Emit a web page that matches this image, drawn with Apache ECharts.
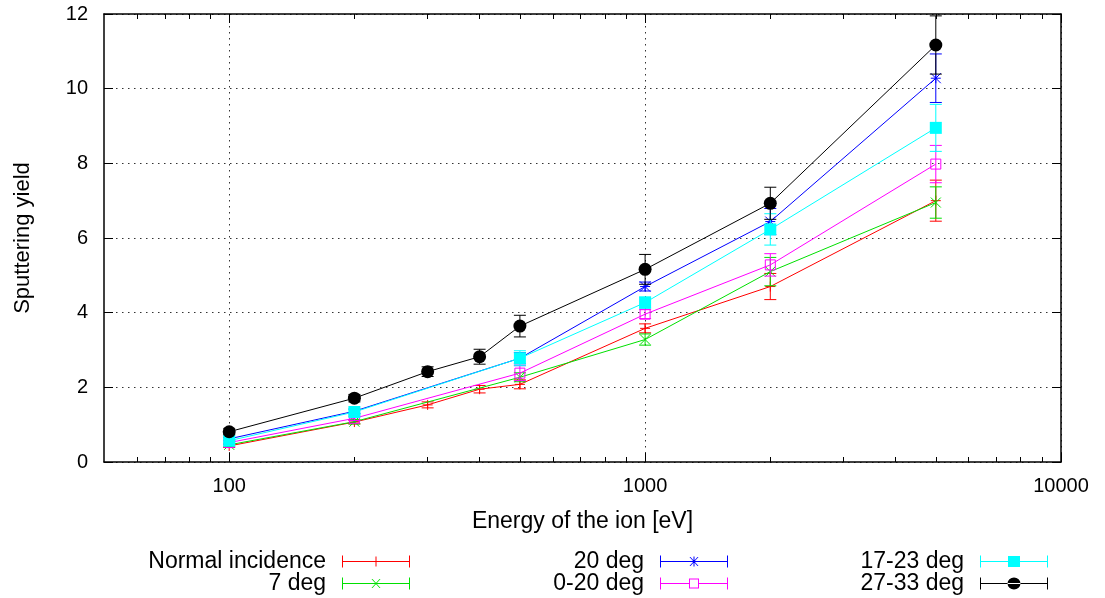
<!DOCTYPE html>
<html><head><meta charset="utf-8">
<script src="https://cdn.jsdelivr.net/npm/echarts@6/dist/echarts.min.js"></script>
<style>html,body{margin:0;padding:0;background:#fff}#c{width:1105px;height:598px}</style>
</head><body><div id="c"></div>
<script>
// ---- data ----
const energyFull = [100, 200, 300, 400, 500, 1000, 2000, 5000];
const energyMain = [100, 200, 500, 1000, 2000, 5000];

const normalY   = [0.43, 1.07, 1.53, 1.95, 2.08, 3.58, 4.70, 7.00];
const normalErr = [0.04, 0.05, 0.08, 0.10, 0.12, 0.12, 0.35, 0.55];

const deg7Y   = [0.46, 1.08, 2.27, 3.28, 5.10, 6.95];
const deg7Err = [0.04, 0.06, 0.12, 0.15, 0.38, 0.42];

const deg20Y   = [0.62, 1.36, 2.78, 4.70, 6.44, 10.28];
const deg20Err = [0.04, 0.06, 0.15, 0.12, 0.35, 0.65];

const deg0to20Y   = [0.52, 1.17, 2.38, 3.96, 5.28, 7.98];
const deg0to20Err = [0.04, 0.06, 0.20, 0.12, 0.30, 0.50];

const deg17to23Y   = [0.57, 1.34, 2.78, 4.27, 6.23, 8.95];
const deg17to23Err = [0.04, 0.06, 0.20, 0.15, 0.42, 0.63];

const deg27to33Y   = [0.81, 1.71, 2.42, 2.82, 3.64, 5.16, 6.93, 11.17];
const deg27to33Err = [0.08, 0.10, 0.13, 0.20, 0.29, 0.40, 0.43, 0.78];

const xMajorTicks = [100, 1000, 10000];
const xMinorTicks = [60, 70, 80, 90, 200, 300, 400, 500, 600, 700, 800, 900,
                     2000, 3000, 4000, 5000, 6000, 7000, 8000, 9000];
const seriesNames = ['Normal incidence', '7 deg', '20 deg', '0-20 deg', '17-23 deg', '27-33 deg'];

// ---- styling ----
const FONT = 'Liberation Sans, Arial, Helvetica, sans-serif';
const FS = 20;
const FS_TITLE = 23;
const sets = [
  {name: seriesNames[0], x: energyFull, y: normalY,    e: normalErr,    color: '#ff0000', marker: 'plus'},
  {name: seriesNames[1], x: energyMain, y: deg7Y,      e: deg7Err,      color: '#00e000', marker: 'cross'},
  {name: seriesNames[2], x: energyMain, y: deg20Y,     e: deg20Err,     color: '#0000ff', marker: 'star'},
  {name: seriesNames[3], x: energyMain, y: deg0to20Y,  e: deg0to20Err,  color: '#ff00ff', marker: 'osquare'},
  {name: seriesNames[4], x: energyMain, y: deg17to23Y, e: deg17to23Err, color: '#00ffff', marker: 'fsquare'},
  {name: seriesNames[5], x: energyFull, y: deg27to33Y, e: deg27to33Err, color: '#000000', marker: 'circle'}
];

function markerShapes(type, p, color) {
  const st = {stroke: color, lineWidth: 1, fill: null};
  const L = (x1, y1, x2, y2) => ({type: 'line', shape: {x1, y1, x2, y2}, style: st});
  const x = p[0], y = p[1];
  switch (type) {
    case 'plus':  return [L(x - 5, y, x + 5, y), L(x, y - 5, x, y + 5)];
    case 'cross': return [L(x - 5, y - 5, x + 5, y + 5), L(x - 5, y + 5, x + 5, y - 5)];
    case 'star':  return [L(x - 5, y, x + 5, y), L(x, y - 5, x, y + 5),
                          L(x - 5, y - 5, x + 5, y + 5), L(x - 5, y + 5, x + 5, y - 5)];
    case 'osquare': return [{type: 'rect', shape: {x: x - 5, y: y - 5, width: 10, height: 10}, style: st}];
    case 'fsquare': return [{type: 'rect', shape: {x: x - 6, y: y - 6, width: 12, height: 12}, style: {fill: color}}];
    case 'circle':  return [{type: 'circle', shape: {cx: x, cy: y, r: 6.5}, style: {fill: color}}];
  }
  return [];
}

const legendIcons = {
  plus: 'path://M0 5.5H68V6.5H0Z M0 0H1V12H0Z M67 0H68V12H67Z M29 5.5H39V6.5H29Z M33.5 1H34.5V11H33.5Z',
  cross: 'path://M0 5.5H68V6.5H0Z M0 0H1V12H0Z M67 0H68V12H67Z M29.5 1.5L30.5 1.5L38.5 10.5L37.5 10.5Z M37.5 1.5L38.5 1.5L30.5 10.5L29.5 10.5Z',
  star: 'path://M0 5.5H68V6.5H0Z M0 0H1V12H0Z M67 0H68V12H67Z M29 5.5H39V6.5H29Z M33.5 1H34.5V11H33.5Z M29.5 1.5L30.5 1.5L38.5 10.5L37.5 10.5Z M37.5 1.5L38.5 1.5L30.5 10.5L29.5 10.5Z',
  osquare: 'path://M0 5.5H29V6.5H0Z M39 5.5H68V6.5H39Z M0 0H1V12H0Z M67 0H68V12H67Z M29 1H39V11H29Z M30 2V10H38V2Z',
  fsquare: 'path://M0 5.5H68V6.5H0Z M0 0H1V12H0Z M67 0H68V12H67Z M28 0.5H40V11.5H28Z',
  circle: 'path://M0 5.5H68V6.5H0Z M0 0H1V12H0Z M67 0H68V12H67Z M27.5 6A6.5 6 0 1 0 40.5 6A6.5 6 0 1 0 27.5 6Z'
};

const series = [];
sets.forEach((s, idx) => {
  series.push({
    type: 'line', name: s.name, xAxisIndex: 0, yAxisIndex: 0,
    data: s.x.map((x, i) => [x, s.y[i]]),
    symbol: 'none', color: s.color,
    lineStyle: {color: s.color, width: 1}, z: 2 + idx * 2, animation: false
  });
  series.push({
    type: 'custom', name: s.name, xAxisIndex: 0, yAxisIndex: 0, clip: true,
    data: s.x.map((x, i) => [x, s.y[i], s.e[i]]),
    encode: {x: 0, y: 1}, color: s.color, z: 3 + idx * 2, animation: false,
    renderItem(params, api) {
      const x = api.value(0), y = api.value(1), e = api.value(2);
      const p = api.coord([x, y]);
      const lo = api.coord([x, y - e]), hi = api.coord([x, y + e]);
      const st = {stroke: s.color, lineWidth: 1};
      const ch = [
        {type: 'line', shape: {x1: p[0], y1: lo[1], x2: p[0], y2: hi[1]}, style: st},
        {type: 'line', shape: {x1: p[0] - 6, y1: lo[1], x2: p[0] + 6, y2: lo[1]}, style: st},
        {type: 'line', shape: {x1: p[0] - 6, y1: hi[1], x2: p[0] + 6, y2: hi[1]}, style: st}
      ].concat(markerShapes(s.marker, p, s.color));
      return {type: 'group', children: ch};
    }
  });
});

// legend: one component per entry, text right-aligned before the sample
const legendRight = [695, 695, 377, 377, 57, 57];
const legendTop = [550, 572, 550, 572, 550, 572];
const legends = sets.map((s, i) => ({
  show: true, orient: 'horizontal', align: 'right', padding: 0,
  right: legendRight[i], top: legendTop[i],
  itemWidth: 68, itemHeight: 12, selectedMode: false,
  itemStyle: {borderWidth: 0},
  textStyle: {fontFamily: FONT, fontSize: FS_TITLE, color: '#000', padding: [0, 11, 0, 0]},
  data: [{name: s.name, icon: legendIcons[s.marker]}]
}));

const axisLineStyle = {show: true, lineStyle: {color: '#000', width: 1.5}};
const gridDotted = {show: true, lineStyle: {color: '#333', width: 1, type: [1.5, 4.5]}};
const xBase = {type: 'log', logBase: 10, min: 50, max: 10000};

const option = {
  backgroundColor: '#fff',
  animation: false,
  grid: {left: 104, right: 44, top: 14, bottom: 136, containLabel: false},
  legend: legends,
  xAxis: [
    Object.assign({}, xBase, {
      position: 'bottom',
      name: 'Energy of the ion [eV]', nameLocation: 'middle', nameGap: 48,
      nameTextStyle: {fontFamily: FONT, fontSize: FS_TITLE, color: '#000'},
      axisLine: axisLineStyle,
      axisTick: {show: true, inside: true, length: 9, customValues: xMajorTicks, lineStyle: {color: '#000', width: 1}},
      axisLabel: {show: true, customValues: xMajorTicks, fontFamily: FONT, fontSize: FS, color: '#000', margin: 14,
                  formatter: v => String(Math.round(v))},
      splitLine: gridDotted
    }),
    Object.assign({}, xBase, {
      position: 'bottom', axisLine: {show: false},
      axisTick: {show: true, inside: true, length: 5, customValues: xMinorTicks, lineStyle: {color: '#000', width: 1}},
      axisLabel: {show: false}, splitLine: {show: false}
    }),
    Object.assign({}, xBase, {
      position: 'top', axisLine: axisLineStyle,
      axisTick: {show: true, inside: true, length: 9, customValues: xMajorTicks, lineStyle: {color: '#000', width: 1}},
      axisLabel: {show: false}, splitLine: {show: false}
    }),
    Object.assign({}, xBase, {
      position: 'top', axisLine: {show: false},
      axisTick: {show: true, inside: true, length: 5, customValues: xMinorTicks, lineStyle: {color: '#000', width: 1}},
      axisLabel: {show: false}, splitLine: {show: false}
    })
  ],
  yAxis: [
    {
      type: 'value', min: 0, max: 12, interval: 2, position: 'left',
      name: 'Sputtering yield', nameLocation: 'middle', nameGap: 70, nameRotate: 90,
      nameTextStyle: {fontFamily: FONT, fontSize: 22, color: '#000'},
      axisLine: axisLineStyle,
      axisTick: {show: true, inside: true, length: 9, lineStyle: {color: '#000', width: 1}},
      axisLabel: {fontFamily: FONT, fontSize: FS, color: '#000', margin: 16},
      splitLine: gridDotted
    },
    {
      type: 'value', min: 0, max: 12, interval: 2, position: 'right',
      axisLine: axisLineStyle,
      axisTick: {show: true, inside: true, length: 9, lineStyle: {color: '#000', width: 1}},
      axisLabel: {show: false}, splitLine: {show: false}
    }
  ],
  series: series
};

const chart = echarts.init(document.getElementById('c'), null, {renderer: 'canvas'});
chart.setOption(option);
</script>
</body></html>
